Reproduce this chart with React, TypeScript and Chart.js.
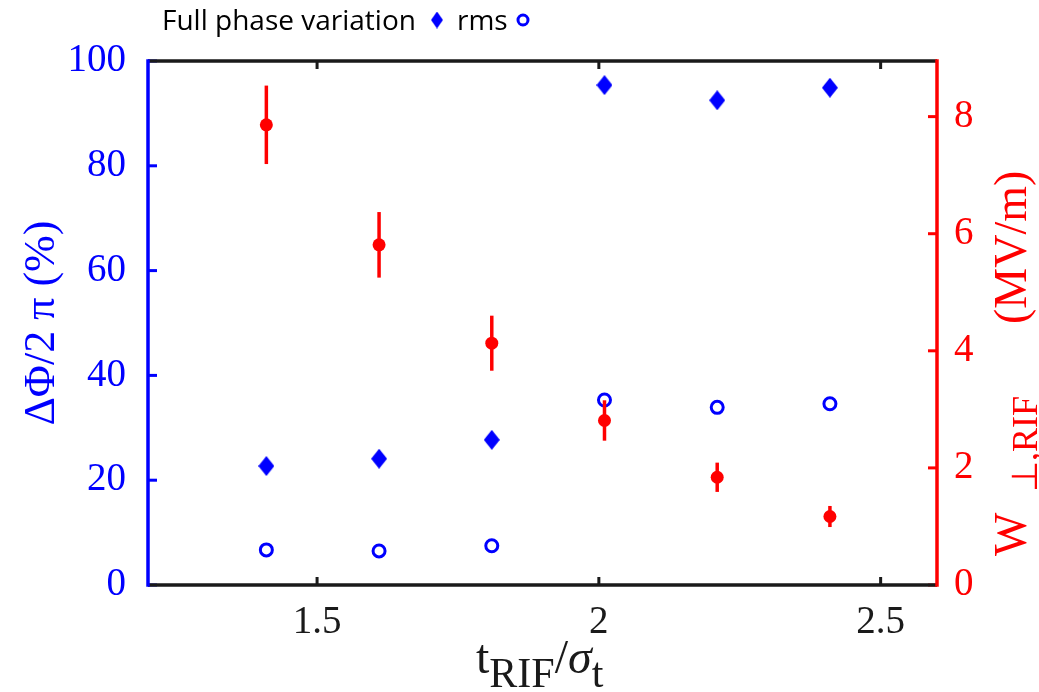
import React, { useEffect, useRef } from 'react';
import { Chart, registerables } from 'chart.js';

Chart.register(...registerables);

// ---- data ----
const xValues = [1.41, 1.61, 1.81, 2.01, 2.21, 2.41];
const fullPhaseVariation = [22.7, 24.1, 27.7, 95.4, 92.5, 94.9];
const rmsValues = [6.7, 6.5, 7.5, 35.3, 33.9, 34.6];
const wRif = [7.86, 5.81, 4.13, 2.81, 1.84, 1.17];
const wRifErr = [0.67, 0.56, 0.47, 0.345, 0.25, 0.18];
const xTicks = [1.5, 2, 2.5];
const leftTicks = [0, 20, 40, 60, 80, 100];
const rightTicks = [0, 2, 4, 6, 8];
const legendLabels = ['Full phase variation', 'rms'];

const BLUE = '#0000ff';
const RED = '#ff0000';
const BLACK = '#1a1a1a';
const SERIF = '"Liberation Serif", "Times New Roman", serif';
const SANS = '"Open Sans", "Noto Sans", sans-serif';

function makeDiamond(w: number, h: number, color: string) {
  const c = document.createElement('canvas');
  c.width = w;
  c.height = h;
  const g = c.getContext('2d')!;
  g.fillStyle = color;
  g.beginPath();
  g.moveTo(w / 2, 0);
  g.lineTo(w, h / 2);
  g.lineTo(w / 2, h);
  g.lineTo(0, h / 2);
  g.closePath();
  g.fill();
  return c;
}

type Part = { text: string; font: string; dy?: number; at?: number };

function drawRich(ctx: CanvasRenderingContext2D, x: number, y: number, rot: number, color: string, parts: Part[]) {
  ctx.save();
  ctx.translate(x, y);
  ctx.rotate(rot);
  ctx.textBaseline = 'alphabetic';
  ctx.textAlign = 'left';
  ctx.fillStyle = color;
  let cx = 0;
  for (const p of parts) {
    ctx.font = p.font;
    if (p.at !== undefined) cx = p.at;
    ctx.fillText(p.text, cx, p.dy || 0);
    cx += ctx.measureText(p.text).width;
  }
  ctx.restore();
}

function richWidth(ctx: CanvasRenderingContext2D, parts: Part[]) {
  let w = 0;
  ctx.save();
  for (const p of parts) {
    ctx.font = p.font;
    w += ctx.measureText(p.text).width;
  }
  ctx.restore();
  return w;
}

const decorPlugin = {
  id: 'decor',
  beforeDatasetDraw(chart: any, args: any) {
    if (args.index !== 2) return;
    const ctx = chart.ctx as CanvasRenderingContext2D;
    const xs = chart.scales.x;
    const ys = chart.scales.y2;
    ctx.save();
    ctx.strokeStyle = RED;
    ctx.lineWidth = 3.5;
    wRif.forEach((v, i) => {
      const px = xs.getPixelForValue(xValues[i]);
      ctx.beginPath();
      ctx.moveTo(px, ys.getPixelForValue(v - wRifErr[i]));
      ctx.lineTo(px, ys.getPixelForValue(v + wRifErr[i]));
      ctx.stroke();
    });
    ctx.restore();
  },
  afterDraw(chart: any) {
    const ctx = chart.ctx as CanvasRenderingContext2D;
    const { left, right, top, bottom } = chart.chartArea;
    const xs = chart.scales.x;
    const yl = chart.scales.y;
    const yr = chart.scales.y2;
    ctx.save();
    // inward ticks
    ctx.lineWidth = 3;
    ctx.strokeStyle = BLACK;
    xTicks.forEach((v) => {
      const px = xs.getPixelForValue(v);
      ctx.beginPath();
      ctx.moveTo(px, bottom);
      ctx.lineTo(px, bottom - 8);
      ctx.moveTo(px, top);
      ctx.lineTo(px, top + 8);
      ctx.stroke();
    });
    ctx.strokeStyle = BLUE;
    leftTicks.forEach((v) => {
      const py = yl.getPixelForValue(v);
      ctx.beginPath();
      ctx.moveTo(left, py);
      ctx.lineTo(left + 9, py);
      ctx.stroke();
    });
    ctx.strokeStyle = RED;
    rightTicks.forEach((v) => {
      const py = yr.getPixelForValue(v);
      ctx.beginPath();
      ctx.moveTo(right, py);
      ctx.lineTo(right - 9, py);
      ctx.stroke();
    });
    // frame
    ctx.lineWidth = 3.5;
    ctx.strokeStyle = BLACK;
    ctx.beginPath();
    ctx.moveTo(left, top);
    ctx.lineTo(right, top);
    ctx.moveTo(left, bottom);
    ctx.lineTo(right, bottom);
    ctx.stroke();
    ctx.strokeStyle = BLUE;
    ctx.beginPath();
    ctx.moveTo(left, top - 1.75);
    ctx.lineTo(left, bottom + 1.75);
    ctx.stroke();
    ctx.strokeStyle = RED;
    ctx.beginPath();
    ctx.moveTo(right, top - 1.75);
    ctx.lineTo(right, bottom + 1.75);
    ctx.stroke();

    // left axis title
    const leftParts: Part[] = [{ text: 'ΔΦ/2 π (%)', font: `44px ${SERIF}` }];
    const lw = richWidth(ctx, leftParts);
    drawRich(ctx, 54, (top + bottom) / 2 + lw / 2, -Math.PI / 2, BLUE, leftParts);

    // right axis title
    drawRich(ctx, 1026, 556, -Math.PI / 2, RED, [
      { text: 'W', font: `46px ${SERIF}`, at: 0 },
      { text: '⊥,RIF', font: `36px ${SERIF}`, dy: 11, at: 64 },
      { text: '(MV/m)', font: `46px ${SERIF}`, at: 232 },
    ]);

    // x axis title
    drawRich(ctx, 476, 673, 0, BLACK, [
      { text: 't', font: `48px ${SERIF}` },
      { text: 'RIF', font: `42px ${SERIF}`, dy: 14 },
      { text: '/', font: `48px ${SERIF}` },
      { text: 'σ', font: `italic 48px ${SERIF}` },
      { text: 't', font: `42px ${SERIF}`, dy: 14 },
    ]);

    // legend
    ctx.fillStyle = '#000';
    ctx.textBaseline = 'alphabetic';
    ctx.textAlign = 'left';
    ctx.font = `28px ${SANS}`;
    ctx.fillText(legendLabels[0], 162, 30);
    const d = makeDiamond(12, 17, BLUE);
    ctx.drawImage(d, 437 - 6, 20 - 8.5);
    ctx.fillStyle = '#000';
    ctx.fillText(legendLabels[1], 457, 30);
    ctx.strokeStyle = BLUE;
    ctx.lineWidth = 3;
    ctx.beginPath();
    ctx.arc(523, 20, 5, 0, Math.PI * 2);
    ctx.stroke();
    ctx.restore();
  },
};

export default function App() {
  const ref = useRef<HTMLCanvasElement | null>(null);
  useEffect(() => {
    if (!ref.current) return;
    const diamond = makeDiamond(16, 20, BLUE);
    const chart = new Chart(ref.current, {
      type: 'scatter',
      data: {
        datasets: [
          {
            label: legendLabels[0],
            data: xValues.map((x, i) => ({ x, y: fullPhaseVariation[i] })),
            yAxisID: 'y',
            pointStyle: diamond as any,
            pointRadius: 9,
            backgroundColor: BLUE,
            borderColor: BLUE,
            order: 1,
          },
          {
            label: legendLabels[1],
            data: xValues.map((x, i) => ({ x, y: rmsValues[i] })),
            yAxisID: 'y',
            pointStyle: 'circle',
            pointRadius: 6,
            borderWidth: 3,
            backgroundColor: 'rgba(255,255,255,0)',
            borderColor: BLUE,
            order: 1,
          },
          {
            label: 'W',
            data: xValues.map((x, i) => ({ x, y: wRif[i] })),
            yAxisID: 'y2',
            pointStyle: 'circle',
            pointRadius: 6.5,
            borderWidth: 0,
            backgroundColor: RED,
            borderColor: RED,
            order: 0,
          },
        ],
      },
      options: {
        animation: false,
        responsive: true,
        maintainAspectRatio: false,
        layout: { padding: { top: 61, left: 0, right: 0, bottom: 0 } },
        plugins: { legend: { display: false }, tooltip: { enabled: false } },
        scales: {
          x: {
            type: 'linear',
            position: 'bottom',
            min: 1.2,
            max: 2.6,
            grid: { display: false, drawTicks: false, tickLength: 0 },
            border: { display: false },
            ticks: {
              color: BLACK,
              font: { family: SERIF, size: 39 },
              padding: 14,
              maxRotation: 0,
              callback: (v: any) => String(v),
            },
            afterBuildTicks: (s: any) => {
              s.ticks = xTicks.map((v) => ({ value: v }));
            },
            afterFit: (s: any) => {
              s.height = 107;
            },
          },
          y: {
            type: 'linear',
            position: 'left',
            min: 0,
            max: 100,
            grid: { display: false, drawTicks: false, tickLength: 0 },
            border: { display: false },
            ticks: {
              color: BLUE,
              font: { family: SERIF, size: 39 },
              padding: 22,
              callback: (v: any) => String(v),
            },
            afterBuildTicks: (s: any) => {
              s.ticks = leftTicks.map((v) => ({ value: v }));
            },
            afterFit: (s: any) => {
              s.width = 148;
            },
          },
          y2: {
            type: 'linear',
            position: 'right',
            min: 0,
            max: 8.95,
            grid: { display: false, drawTicks: false, tickLength: 0 },
            border: { display: false },
            ticks: {
              color: RED,
              font: { family: SERIF, size: 39 },
              padding: 17,
              callback: (v: any) => String(v),
            },
            afterBuildTicks: (s: any) => {
              s.ticks = rightTicks.map((v) => ({ value: v }));
            },
            afterFit: (s: any) => {
              s.width = 102;
            },
          },
        },
      },
      plugins: [decorPlugin],
    });
    return () => chart.destroy();
  }, []);
  return (
    <div style={{ position: 'fixed', left: 0, top: 0, width: 1039, height: 692, background: '#fff' }}>
      <canvas ref={ref} />
    </div>
  );
}
